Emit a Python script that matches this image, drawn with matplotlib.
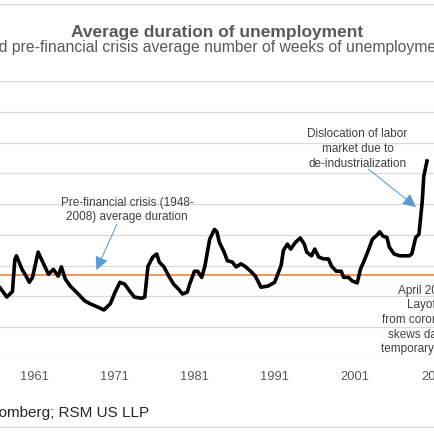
import matplotlib
matplotlib.use('Agg')
import matplotlib.pyplot as plt
from matplotlib.lines import Line2D

plt.rcParams['font.family'] = ['Liberation Sans', 'DejaVu Sans']

# ---------------- data ----------------
years = [1956.0, 1956.7, 1957.6, 1958.3, 1958.6, 1958.8, 1959.5, 1960.0, 1960.4, 1960.8,
         1961.5, 1962.0, 1962.8, 1963.4, 1964.0, 1964.4, 1964.9, 1965.5, 1966.5, 1967.3,
         1968.0, 1968.9, 1969.7, 1970.5, 1971.1, 1971.7, 1972.3, 1972.9, 1973.5, 1974.4,
         1974.8, 1975.2, 1975.8, 1976.3, 1976.6, 1977.2, 1977.8, 1978.4, 1979.0, 1979.5,
         1980.1, 1980.4, 1981.0, 1981.4, 1981.9, 1982.3, 1982.9, 1983.5, 1983.8, 1984.1,
         1984.7, 1985.1, 1985.7, 1986.2, 1986.8, 1987.4, 1988.0, 1988.6, 1989.3, 1990.2,
         1991.0, 1991.8, 1992.1, 1992.6, 1993.0, 1993.6, 1994.2, 1994.7, 1995.0, 1995.6,
         1996.0, 1996.5, 1997.1, 1997.7, 1998.1, 1998.7, 1999.3, 1999.6, 2000.2, 2000.7,
         2001.3, 2001.7, 2002.1, 2002.6, 2003.2, 2003.8, 2004.1, 2004.5, 2005.0, 2005.3,
         2005.9, 2006.6, 2007.2, 2007.8, 2008.1, 2008.6, 2009.0, 2009.4, 2009.6, 2010.0]
weeks = [12.0, 11.5, 9.9, 10.8, 16.0, 16.6, 14.4, 13.3, 12.3, 13.1,
         17.2, 15.8, 13.6, 14.4, 13.3, 14.8, 12.8, 11.7, 10.4, 9.3,
         8.8, 8.3, 7.8, 8.8, 10.7, 12.3, 12.0, 10.9, 9.9, 9.7,
         9.9, 14.9, 16.4, 16.9, 15.6, 14.8, 13.3, 12.0, 11.2, 10.4,
         10.7, 12.0, 14.1, 14.1, 13.1, 14.9, 19.3, 20.9, 20.5, 18.8,
         17.2, 15.8, 15.6, 14.8, 15.3, 14.8, 14.1, 13.3, 11.5, 11.7,
         12.3, 15.0, 17.5, 18.5, 17.7, 18.8, 19.5, 18.5, 17.2, 16.6,
         17.7, 16.4, 16.1, 16.1, 14.9, 14.1, 14.1, 13.1, 13.1, 12.5,
         12.2, 14.4, 15.6, 17.2, 19.3, 20.0, 20.5, 19.8, 19.6, 18.0,
         16.9, 16.6, 16.6, 16.6, 16.9, 19.6, 20.1, 25.3, 29.5, 32.0]
pre_crisis_avg = 13.5
tick_years = [1961, 1971, 1981, 1991, 2001, 2011]
y_ticks = [0, 5, 10, 15, 20, 25, 30, 35, 40, 45]

title = "Average duration of unemployment"
subtitle = "Actual and pre-financial crisis average number of weeks of unemployment"
source = "Source: Bloomberg; RSM US LLP"
note1 = "Pre-financial crisis (1948-\n2008) average duration"
note2 = "Dislocation of labor\nmarket due to\nde-industrialization"
note3 = "April 2020:\nLayoffs\nfrom coronavirus\nskews data on\ntemporary layoffs"

# ---------------- layout ----------------
W = H = 435
DPI = 100
fig = plt.figure(figsize=(W / DPI, H / DPI), dpi=DPI)
fig.patch.set_facecolor('white')

x0_px, px_per_year = 35.0, 8.23
xmin = 1961 - x0_px / px_per_year
xmax = 1961 + (W - x0_px) / px_per_year
top_px, bottom_px = 82.0, 359.0
ax = fig.add_axes([0, 1 - bottom_px / H, 1, (bottom_px - top_px) / H])
ax.set_xlim(xmin, xmax)
ax.set_ylim(0, 45)
for s in ax.spines.values():
    s.set_visible(False)
ax.set_yticks(y_ticks)
ax.set_yticklabels([])
ax.grid(True, axis='y', color='#d9d9d9', linewidth=0.85)
ax.set_xticks(tick_years)
ax.set_xticklabels([str(y) for y in tick_years])
ax.tick_params(axis='both', length=0)
ax.tick_params(axis='x', pad=8.4, labelsize=9.3, labelcolor='#595959')

ax.axhline(pre_crisis_avg, color='#ED7D31', linewidth=1.15, zorder=2)
ax.plot(years, weeks, color='black', linewidth=2.6, zorder=3)

txt_color = '#404040'
arrow_color = '#5B9BD5'
def px2data(xp, yp):
    return (1961 + (xp - x0_px) / px_per_year, (bottom_px - yp) / (bottom_px - top_px) * 45)

for head, tail in (((99, 271), (120, 225)), ((427, 208), (378, 170))):
    ax.annotate('', xy=px2data(*head), xytext=px2data(*tail),
                arrowprops=dict(arrowstyle='-|>,head_length=0.8,head_width=0.4',
                                color=arrow_color, linewidth=0.75, mutation_scale=10,
                                shrinkA=0, shrinkB=0))

for note, (xp, yp) in ((note1, (130.5, 210)), (note2, (367, 149)), (note3, (437, 320))):
    ax.text(*px2data(xp, yp), note, ha='center', va='center', fontsize=8.5,
            color=txt_color, linespacing=1.3)

for yp in (5, 428):
    fig.add_artist(Line2D([0, 1], [1 - yp / H] * 2, transform=fig.transFigure,
                          color='#d9d9d9', linewidth=0.95))

fig.text(217 / W, 1 - 36.7 / H, title, ha='center', va='baseline', fontsize=12.5,
         fontweight='bold', color='#595959')

renderer = fig.canvas.get_renderer()
def place_cut(full, prefix, y_px, start_px, **kw):
    tmp = fig.text(0, 0, prefix, **kw)
    w = tmp.get_window_extent(renderer).width
    tmp.remove()
    fig.text((start_px - w) / W, 1 - y_px / H, full, ha='left', va='baseline', **kw)

place_cut(subtitle, "Actual an", 51.7, -1, fontsize=11.35, color='#595959')
place_cut(source, "Source: Blo", 416.7, -1.5, fontsize=11.0, color='#262626')

fig.savefig('out.png', dpi=DPI, facecolor='white')
